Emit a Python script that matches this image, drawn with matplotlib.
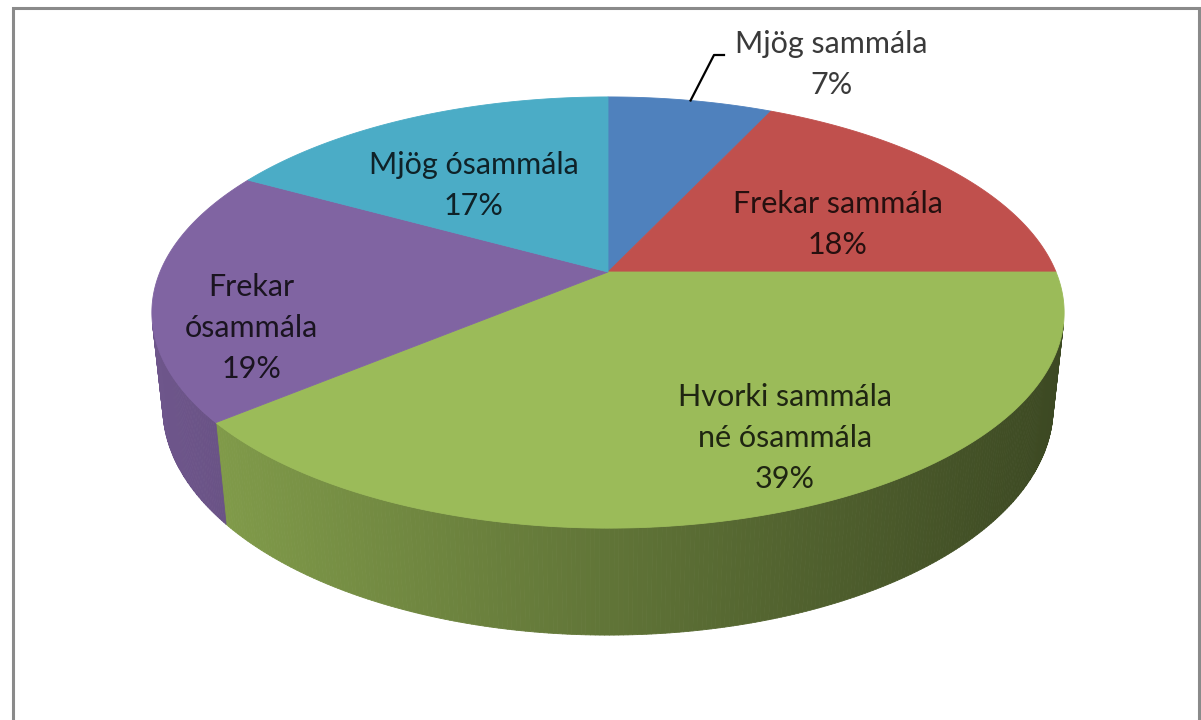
import numpy as np
import matplotlib.pyplot as plt
from matplotlib.collections import PolyCollection
from matplotlib.colors import to_rgb

# data
labels = ["Mjög sammála", "Frekar sammála", "Hvorki sammála\nné ósammála",
          "Frekar\nósammála", "Mjög ósammála"]
values = [7, 18, 39, 19, 17]
colors = ["#4F81BD", "#C0504D", "#9BBB59", "#8064A2", "#4BACC6"]

# perspective camera looking down on a unit disc (pixel units)
CX, CY = 608, 272
S, D = 2111, 4.712
phi = np.radians(27.66)
H = 0.2406
c, s = np.cos(phi), np.sin(phi)


def proj(X, Y, Z=0.0):
    yc = Y * s + Z * c
    zc = D + Y * c - Z * s
    return CX + S * X / zc, CY - S * yc / zc


def arc(t0, t1, z=0.0, step=0.5):
    n = max(2, int(abs(t1 - t0) / step) + 1)
    t = np.radians(np.linspace(t0, t1, n))
    return proj(np.cos(t), np.sin(t), z)


fig = plt.figure(figsize=(12.01, 7.2), dpi=100)
ax = fig.add_axes([0, 0, 1, 1])
ax.set_xlim(0, 1201)
ax.set_ylim(720, 0)
ax.axis("off")

# frame
ax.plot([13, 13, 1199, 1199], [730, 8, 8, 730], color="#8a8a8a", lw=2.2,
        solid_joinstyle="miter")

cum = np.concatenate([[0], np.cumsum(values)]) / sum(values)
starts = 90 - 360 * cum[:-1]
ends = 90 - 360 * cum[1:]

# visible side wall range
alpha = np.degrees(np.arcsin(1 / (D * c)))
vis_lo, vis_hi = -180 + alpha, -alpha

quads, qcols = [], []
for t0, t1, col in zip(starts, ends, colors):
    a, b = max(t1, vis_lo), min(t0, vis_hi)
    if a >= b:
        continue
    base = np.array(to_rgb(col))
    tt = np.arange(b, a, -0.5)
    tt = np.append(tt, a)
    for u, v in zip(tt[:-1], tt[1:]):
        xt, yt = arc(u, v, 0, 0.25)
        xb, yb = arc(v, u, -H, 0.25)
        quads.append(np.column_stack([np.r_[xt, xb], np.r_[yt, yb]]))
        px = proj(np.cos(np.radians((u + v) / 2)), np.sin(np.radians((u + v) / 2)))[0]
        f = 0.86 - 0.47 * (px - 150) / 910
        qcols.append(np.clip(base * f, 0, 1))

ax.add_collection(PolyCollection(quads, facecolors=qcols, edgecolors=qcols,
                                 linewidths=0.6, zorder=1))

# top face
ax0, ay0 = proj(0, 0)
for t0, t1, col in zip(starts, ends, colors):
    xs, ys = arc(t0, t1)
    ax.fill(np.r_[ax0, xs], np.r_[ay0, ys], color=col, lw=0.6, ec=col, zorder=2)

# labels
font = dict(family="Lato", fontsize=22, ha="center", va="baseline", zorder=5)
spacing = 41
label_pos = [(831, 53), (838, 213), (785, 406), (251, 296), (474, 174)]
for lab, val, col, (x, y) in zip(labels, values, colors, label_pos):
    lines = lab.split("\n") + [f"{val}%"]
    tc = "#3a3a3a" if val == 7 else tuple(np.array(to_rgb(col)) * 0.2)
    for k, line in enumerate(lines):
        ax.text(x, y + k * spacing, line, color=tc, **font)

# leader line for the small slice
mid = np.radians((starts[0] + ends[0]) / 2)
lx, ly = proj(np.cos(mid), np.sin(mid))
ax.plot([lx, 714, 724], [ly, 55, 55], color="black", lw=1.6, zorder=4)

fig.savefig("out.png", dpi=100)
